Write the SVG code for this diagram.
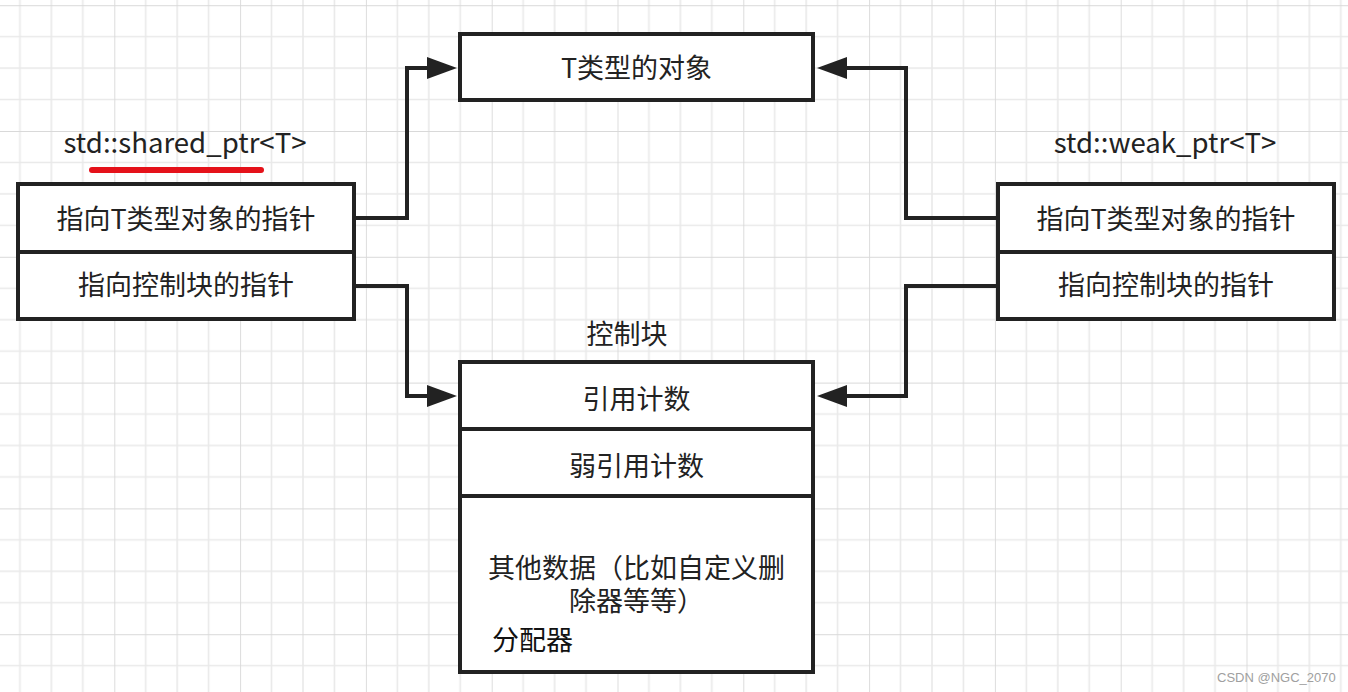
<svg xmlns="http://www.w3.org/2000/svg" width="1348" height="692" viewBox="0 0 1348 692">
  <defs>
    <pattern id="grid" patternUnits="userSpaceOnUse" x="-11.5" y="5.2" width="125.8" height="125.8">
      <path d="M31.45 0V125.8M62.9 0V125.8M94.35 0V125.8M0 31.45H125.8M0 62.9H125.8M0 94.35H125.8" fill="none" stroke="#e9e9e9" stroke-width="1.6"/>
      <path d="M0 0V125.8M0 0H125.8" fill="none" stroke="#d9d9d9" stroke-width="1.8"/>
    </pattern>
    <marker id="arrow" markerUnits="userSpaceOnUse" markerWidth="30" markerHeight="22" refX="13" refY="11" orient="auto">
      <path d="M0,0 L30,11 L0,22 Z" fill="#222"/>
    </marker>
    <style>
      .box { fill: #fff; stroke: #222; stroke-width: 4; }
      .div { stroke: #222; stroke-width: 4; }
      .conn { fill: none; stroke: #222; stroke-width: 4; stroke-linejoin: miter; }
      .t { font-family: "Noto Sans CJK SC", "Noto Sans", sans-serif; font-size: 27px; fill: #222; text-anchor: middle; }
      .lbl { font-family: "Noto Sans CJK SC", "Noto Sans", sans-serif; font-size: 27.6px; fill: #222; text-anchor: middle; }
    </style>
  </defs>
  <rect width="1348" height="692" fill="#fff"/>
  <rect width="1348" height="692" fill="url(#grid)"/>

  <g id="connectors">
    <path class="conn" d="M354 218 H407 V68 H440" marker-end="url(#arrow)"/>
    <path class="conn" d="M354 286 H407 V396 H440" marker-end="url(#arrow)"/>
    <path class="conn" d="M998 218 H906 V68 H834" marker-end="url(#arrow)"/>
    <path class="conn" d="M998 286 H906 V396 H834" marker-end="url(#arrow)"/>
  </g>

  <g id="shared-ptr">
    <text class="lbl" x="185" y="153">std::shared_ptr&lt;T&gt;</text>
    <line x1="92" y1="170" x2="261" y2="170" stroke="#e5121a" stroke-width="6" stroke-linecap="round"/>
    <rect class="box" x="18" y="184" width="336" height="135"/>
    <line class="div" x1="18" y1="252" x2="354" y2="252"/>
    <text class="t" x="186" y="229">指向T类型对象的指针</text>
    <text class="t" x="186" y="295">指向控制块的指针</text>
  </g>

  <g id="t-object">
    <rect class="box" x="460" y="34" width="353" height="66"/>
    <text class="t" x="636.5" y="78">T类型的对象</text>
  </g>

  <g id="weak-ptr">
    <text class="lbl" x="1165" y="153">std::weak_ptr&lt;T&gt;</text>
    <rect class="box" x="998" y="184" width="336" height="135"/>
    <line class="div" x1="998" y1="252" x2="1334" y2="252"/>
    <text class="t" x="1166" y="229">指向T类型对象的指针</text>
    <text class="t" x="1166" y="295">指向控制块的指针</text>
  </g>

  <g id="control-block">
    <text class="t" x="627" y="344">控制块</text>
    <rect class="box" x="460" y="362" width="353" height="310"/>
    <line class="div" x1="460" y1="429" x2="813" y2="429"/>
    <line class="div" x1="460" y1="496" x2="813" y2="496"/>
    <text class="t" x="636.5" y="409">引用计数</text>
    <text class="t" x="636.5" y="476">弱引用计数</text>
    <text class="t"><tspan x="636.5" y="578">其他数据（比如自定义删</tspan><tspan x="636.5" y="611">除器等等）</tspan></text>
    <text class="t" x="492" y="650" style="text-anchor:start;fill:#111">分配器</text>
  </g>

  <text x="1217" y="682" font-family="Liberation Sans, Arial, sans-serif" font-size="13" fill="#a0a0a0">CSDN @NGC_2070</text>
</svg>
